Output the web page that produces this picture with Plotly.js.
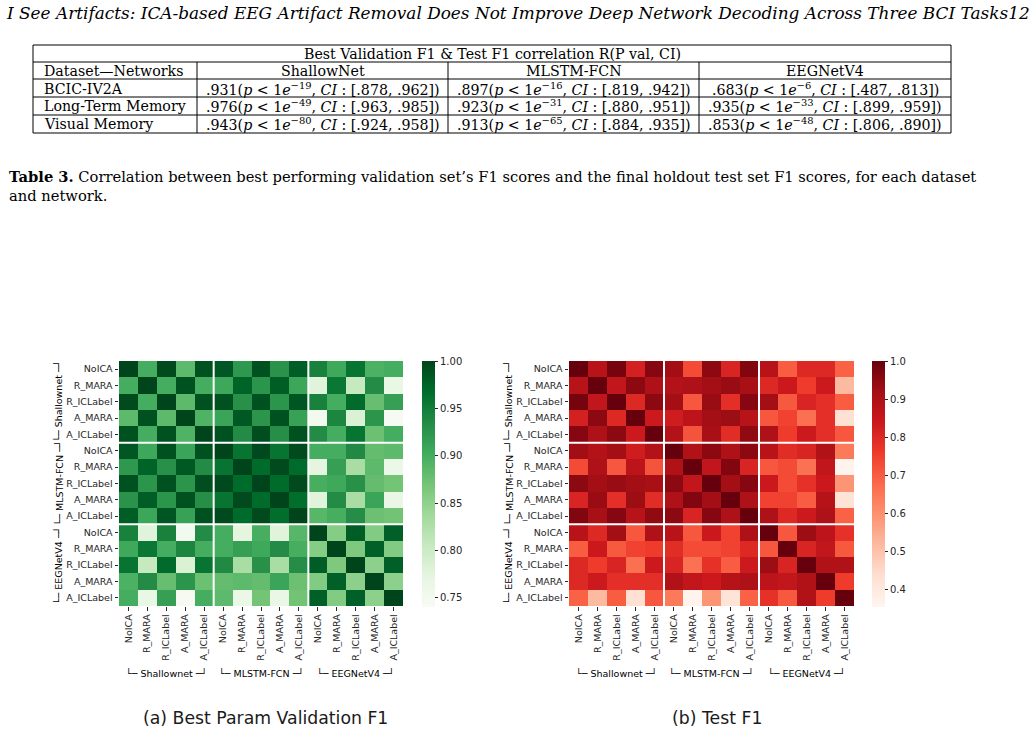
<!DOCTYPE html>
<html>
<head>
<meta charset="utf-8">
<script src="https://cdn.plot.ly/plotly-3.0.1.min.js"></script>
<style>
  html, body { margin: 0; padding: 0; background: #fff; }
  #chart { width: 1030px; height: 753px; }
</style>
</head>
<body>
<div id="chart"></div>
<script>
// ---- page header ----
const pageHeader = 'I See Artifacts: ICA-based EEG Artifact Removal Does Not Improve Deep Network Decoding Across Three BCI Tasks12';

// ---- Table 3 data ----
const tableTitle = 'Best Validation F1 &amp; Test F1 correlation R(P val, CI)';
const tableCorner = 'Dataset—Networks';
const tableNetworks = ['ShallowNet', 'MLSTM-FCN', 'EEGNetV4'];
const tableDatasets = ['BCIC-IV2A', 'Long-Term Memory', 'Visual Memory'];
const corrR   = [[0.931, 0.897, 0.683], [0.976, 0.923, 0.935], [0.943, 0.913, 0.853]];
const pExp    = [[-19, -16, -6], [-49, -31, -33], [-80, -65, -48]];
const ciLow   = [[0.878, 0.819, 0.487], [0.963, 0.880, 0.899], [0.924, 0.884, 0.806]];
const ciHigh  = [[0.962, 0.942, 0.813], [0.985, 0.951, 0.959], [0.958, 0.935, 0.890]];
const captionLabel = 'Table 3.';
const captionLine1 = 'Correlation between best performing validation set’s F1 scores and the final holdout test set F1 scores, for each dataset';
const captionLine2 = 'and network.';

// ---- heatmap data ----
const networks  = ['Shallownet', 'MLSTM-FCN', 'EEGNetV4'];
const pipelines = ['NoICA', 'R_MARA', 'R_ICLabel', 'A_MARA', 'A_ICLabel'];

// correlation of best-param validation F1 between network/pipeline pairs
const valF1Corr = [
  [1.000, 0.900, 0.995, 0.885, 0.990, 0.985, 0.922, 0.990, 0.928, 0.980, 0.945, 0.905, 0.960, 0.895, 0.900],
  [0.900, 1.000, 0.900, 0.990, 0.900, 0.907, 0.975, 0.925, 0.980, 0.908, 0.778, 0.957, 0.805, 0.935, 0.765],
  [0.995, 0.900, 1.000, 0.885, 0.990, 0.990, 0.930, 0.990, 0.925, 0.986, 0.945, 0.900, 0.969, 0.878, 0.915],
  [0.885, 0.990, 0.885, 1.000, 0.893, 0.910, 0.984, 0.925, 0.990, 0.913, 0.750, 0.942, 0.785, 0.925, 0.745],
  [0.990, 0.900, 0.990, 0.893, 1.000, 0.990, 0.935, 0.992, 0.932, 0.990, 0.935, 0.900, 0.960, 0.876, 0.900],
  [0.985, 0.907, 0.990, 0.910, 0.990, 1.000, 0.960, 0.997, 0.960, 0.995, 0.900, 0.900, 0.937, 0.880, 0.885],
  [0.922, 0.975, 0.930, 0.984, 0.935, 0.960, 1.000, 0.968, 0.995, 0.968, 0.773, 0.915, 0.830, 0.885, 0.762],
  [0.990, 0.925, 0.990, 0.925, 0.992, 0.997, 0.968, 1.000, 0.968, 0.995, 0.899, 0.905, 0.930, 0.880, 0.870],
  [0.928, 0.980, 0.925, 0.990, 0.932, 0.960, 0.995, 0.968, 1.000, 0.967, 0.778, 0.935, 0.830, 0.910, 0.763],
  [0.980, 0.908, 0.986, 0.913, 0.990, 0.995, 0.968, 0.995, 0.967, 1.000, 0.888, 0.899, 0.933, 0.875, 0.871],
  [0.945, 0.778, 0.945, 0.750, 0.935, 0.900, 0.773, 0.899, 0.778, 0.888, 1.000, 0.858, 0.980, 0.860, 0.978],
  [0.905, 0.957, 0.900, 0.942, 0.900, 0.900, 0.915, 0.905, 0.935, 0.899, 0.858, 1.000, 0.863, 0.978, 0.860],
  [0.960, 0.805, 0.969, 0.785, 0.960, 0.937, 0.830, 0.930, 0.830, 0.933, 0.980, 0.863, 1.000, 0.852, 0.978],
  [0.895, 0.935, 0.878, 0.925, 0.876, 0.880, 0.885, 0.880, 0.910, 0.875, 0.860, 0.978, 0.852, 1.000, 0.852],
  [0.900, 0.765, 0.915, 0.745, 0.900, 0.885, 0.762, 0.870, 0.763, 0.871, 0.978, 0.860, 0.978, 0.852, 1.000]
];

// correlation of test F1 between network/pipeline pairs
const testF1Corr = [
  [1.000, 0.880, 0.980, 0.820, 0.960, 0.922, 0.730, 0.950, 0.810, 0.965, 0.880, 0.700, 0.800, 0.800, 0.690],
  [0.880, 1.000, 0.860, 0.950, 0.900, 0.890, 0.900, 0.920, 0.935, 0.910, 0.800, 0.840, 0.757, 0.835, 0.515],
  [0.980, 0.860, 1.000, 0.800, 0.950, 0.920, 0.710, 0.935, 0.785, 0.960, 0.920, 0.705, 0.810, 0.785, 0.700],
  [0.820, 0.950, 0.800, 1.000, 0.835, 0.830, 0.870, 0.920, 0.930, 0.880, 0.710, 0.745, 0.665, 0.785, 0.430],
  [0.960, 0.900, 0.950, 0.835, 1.000, 0.890, 0.715, 0.910, 0.790, 0.945, 0.900, 0.757, 0.835, 0.785, 0.710],
  [0.922, 0.890, 0.920, 0.830, 0.890, 1.000, 0.895, 0.950, 0.900, 0.950, 0.880, 0.790, 0.810, 0.895, 0.645],
  [0.730, 0.900, 0.710, 0.870, 0.715, 0.895, 1.000, 0.860, 0.965, 0.810, 0.710, 0.730, 0.660, 0.860, 0.360],
  [0.950, 0.920, 0.935, 0.920, 0.910, 0.950, 0.860, 1.000, 0.920, 0.960, 0.840, 0.730, 0.780, 0.840, 0.590],
  [0.810, 0.935, 0.785, 0.930, 0.790, 0.900, 0.965, 0.920, 1.000, 0.900, 0.745, 0.745, 0.700, 0.885, 0.420],
  [0.965, 0.910, 0.960, 0.880, 0.945, 0.950, 0.810, 0.960, 0.900, 1.000, 0.900, 0.800, 0.835, 0.900, 0.690],
  [0.880, 0.800, 0.920, 0.710, 0.900, 0.880, 0.710, 0.840, 0.745, 0.900, 1.000, 0.710, 0.930, 0.870, 0.780],
  [0.700, 0.840, 0.705, 0.745, 0.757, 0.790, 0.730, 0.730, 0.745, 0.800, 0.710, 1.000, 0.810, 0.860, 0.705],
  [0.800, 0.757, 0.810, 0.665, 0.835, 0.810, 0.660, 0.780, 0.700, 0.835, 0.930, 0.810, 1.000, 0.895, 0.895],
  [0.800, 0.835, 0.785, 0.785, 0.785, 0.895, 0.860, 0.840, 0.885, 0.900, 0.870, 0.860, 0.895, 1.000, 0.757],
  [0.690, 0.515, 0.700, 0.430, 0.710, 0.645, 0.360, 0.590, 0.420, 0.690, 0.780, 0.705, 0.895, 0.757, 1.000]
];

const valTicks  = [0.75, 0.80, 0.85, 0.90, 0.95, 1.00];
const testTicks = [0.4, 0.5, 0.6, 0.7, 0.8, 0.9, 1.0];
const subCaptions = ['(a) Best Param Validation F1', '(b) Test F1'];

// ---- page geometry (pixels) ----
const W = 1030, H = 753;
const px = x => x / W;
const py = y => 1 - y / H;

const SANS = 'DejaVu Sans, sans-serif';
const SERIF = 'DejaVu Serif, Liberation Serif, serif';
const INK = '#262626';

// matplotlib-style sequential colour ramps
const greens = ['#f7fcf5', '#e5f5e0', '#c7e9c0', '#a1d99b', '#74c476', '#41ab5d', '#238b45', '#006d2c', '#00441b'];
const reds   = ['#fff5f0', '#fee0d2', '#fcbba1', '#fc9272', '#fb6a4a', '#ef3b2c', '#cb181d', '#a50f15', '#67000d'];
const ramp = cols => cols.map((c, i) => [i / (cols.length - 1), c]);

const tickLabels = networks.flatMap(() => pipelines);
const tickIdx = tickLabels.map((_, i) => i);
const groupSize = pipelines.length;

const panels = [
  { z: valF1Corr,  xa: 'x',  ya: 'y',  left: 119, right: 403, cbx: 422, cs: ramp(greens), zmin: 0.7405, zmax: 1.0, ticks: valTicks,  fmt: '.2f', caption: 265 },
  { z: testF1Corr, xa: 'x2', ya: 'y2', left: 569, right: 854, cbx: 872, cs: ramp(reds),   zmin: 0.353,  zmax: 1.0, ticks: testTicks, fmt: '.1f', caption: 717 }
];
const TOP = 361, BOTTOM = 606;

const traces = panels.map(p => ({
  type: 'heatmap',
  z: p.z,
  x: tickIdx,
  y: tickIdx,
  xaxis: p.xa,
  yaxis: p.ya,
  colorscale: p.cs,
  zmin: p.zmin,
  zmax: p.zmax,
  colorbar: {
    x: px(p.cbx), xanchor: 'left', xpad: 0,
    y: py(TOP), yanchor: 'top', ypad: 0,
    len: (BOTTOM + 1 - TOP) / H, lenmode: 'fraction',
    thickness: 13, thicknessmode: 'pixels',
    outlinewidth: 0,
    ticks: 'outside', ticklen: 3.5, tickwidth: 1, tickcolor: INK,
    tickvals: p.ticks, tickformat: p.fmt,
    tickfont: { family: SANS, size: 10, color: INK }
  }
}));

const layout = {
  width: W, height: H,
  margin: { l: 0, r: 0, t: 0, b: 0 },
  paper_bgcolor: '#fff', plot_bgcolor: '#fff',
  showlegend: false,
  annotations: [],
  shapes: []
};

panels.forEach((p, k) => {
  const sfx = k === 0 ? '' : '2';
  const axCommon = {
    tickvals: tickIdx, ticktext: tickLabels,
    ticks: 'outside', ticklen: 3.5, tickwidth: 1, tickcolor: INK,
    tickfont: { family: SANS, size: 9.5, color: INK },
    showgrid: false, zeroline: false, showline: false, fixedrange: true
  };
  layout['xaxis' + sfx] = Object.assign({}, axCommon, {
    domain: [px(p.left), px(p.right)],
    range: [-0.5, tickIdx.length - 0.5],
    anchor: 'y' + sfx, tickangle: -90
  });
  layout['yaxis' + sfx] = Object.assign({}, axCommon, {
    domain: [py(BOTTOM), py(TOP)],
    range: [tickIdx.length - 0.5, -0.5],
    anchor: 'x' + sfx
  });

  // white separators between network blocks
  for (let g = 1; g < networks.length; g++) {
    const b = g * groupSize - 0.5;
    layout.shapes.push(
      { type: 'line', xref: 'x' + sfx, yref: 'y' + sfx, x0: b, x1: b, y0: -0.5, y1: tickIdx.length - 0.5, line: { color: '#fff', width: 2 } },
      { type: 'line', xref: 'x' + sfx, yref: 'y' + sfx, y0: b, y1: b, x0: -0.5, x1: tickIdx.length - 0.5, line: { color: '#fff', width: 2 } }
    );
  }

  // network group labels with brackets
  networks.forEach((n, g) => {
    const c = g * groupSize + (groupSize - 1) / 2;
    const txt = '└─ ' + n + ' ─┘';
    layout.annotations.push({
      xref: 'x' + sfx, yref: 'paper', x: c, y: py(673),
      text: txt, showarrow: false, xanchor: 'center', yanchor: 'middle',
      font: { family: SANS, size: 9.5, color: '#000' }
    });
    layout.annotations.push({
      xref: 'paper', yref: 'y' + sfx, x: px(p.left - 61), y: c,
      text: txt, showarrow: false, textangle: -90, xanchor: 'center', yanchor: 'middle',
      font: { family: SANS, size: 9.5, color: '#000' }
    });
  });

  // panel sub-caption
  layout.annotations.push({
    xref: 'paper', yref: 'paper', x: px(p.caption), y: py(718),
    text: subCaptions[k], showarrow: false, xanchor: 'center', yanchor: 'middle',
    font: { family: SANS, size: 17.3, color: '#1a1a1a' }
  });
});

// ---- page header ----
layout.annotations.push({
  xref: 'paper', yref: 'paper', x: px(4), y: py(13), xanchor: 'left', yanchor: 'middle',
  text: '<i>' + pageHeader + '</i>', showarrow: false,
  font: { family: SERIF, size: 16.9, color: '#000' }
});

// ---- Table 3 ----
const colX = [33, 197, 448, 699, 951];
const rowY = [45, 62, 79, 97, 115, 133];
const tline = (x0, y0, x1, y1) => ({ type: 'line', xref: 'paper', yref: 'paper', x0: px(x0), y0: py(y0), x1: px(x1), y1: py(y1), line: { color: '#000', width: 1 } });
rowY.forEach(y => layout.shapes.push(tline(colX[0], y, colX[colX.length - 1], y)));
layout.shapes.push(tline(colX[0], rowY[0], colX[0], rowY[rowY.length - 1]));
layout.shapes.push(tline(colX[colX.length - 1], rowY[0], colX[colX.length - 1], rowY[rowY.length - 1]));
for (let i = 1; i < colX.length - 1; i++) layout.shapes.push(tline(colX[i], rowY[1], colX[i], rowY[rowY.length - 1]));

const tfont = { family: SERIF, size: 14.2, color: '#000' };
const cell = (text, x, y, anchor) => layout.annotations.push({
  xref: 'paper', yref: 'paper', x: px(x), y: py(y), xanchor: anchor, yanchor: 'middle',
  text: text, showarrow: false, font: tfont
});
const rowMid = r => (rowY[r] + rowY[r + 1]) / 2 + 0.5;
const colMid = c => (colX[c] + colX[c + 1]) / 2;
const dec = v => v.toFixed(3).replace(/^0/, '');

cell(tableTitle, (colX[0] + colX[colX.length - 1]) / 2, rowMid(0), 'center');
cell(tableCorner, colX[0] + 9, rowMid(1), 'left');
tableNetworks.forEach((n, c) => cell(n, colMid(c + 1), rowMid(1), 'center'));
tableDatasets.forEach((d, r) => {
  cell(d, colX[0] + 9, rowMid(r + 2), 'left');
  tableNetworks.forEach((_, c) => {
    const t = dec(corrR[r][c]) + '(<i>p</i> &lt; 1<i>e</i><sup>−' + Math.abs(pExp[r][c]) + '</sup>, <i>CI</i> : [' +
              dec(ciLow[r][c]) + ', ' + dec(ciHigh[r][c]) + '])';
    cell(t, colMid(c + 1), rowMid(r + 2), 'center');
  });
});

// caption
const capFont = { family: SERIF, size: 14.7, color: '#000' };
layout.annotations.push({
  xref: 'paper', yref: 'paper', x: px(7), y: py(176), xanchor: 'left', yanchor: 'middle',
  text: '<b>' + captionLabel + '</b> ' + captionLine1, showarrow: false, font: capFont
});
layout.annotations.push({
  xref: 'paper', yref: 'paper', x: px(7), y: py(195), xanchor: 'left', yanchor: 'middle',
  text: captionLine2, showarrow: false, font: capFont
});

Plotly.newPlot('chart', traces, layout, { displayModeBar: false, staticPlot: true });
</script>
</body>
</html>
